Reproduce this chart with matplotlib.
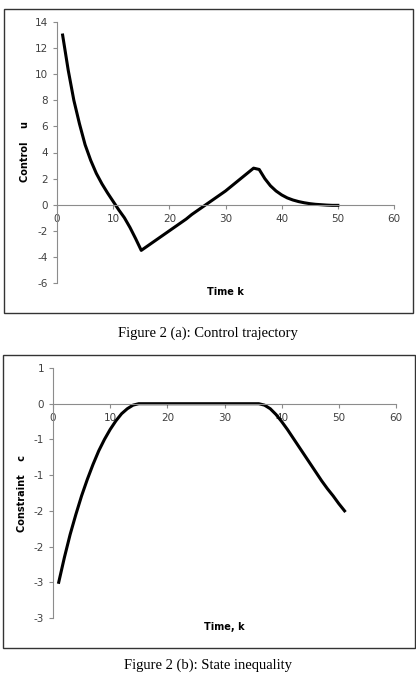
import matplotlib
matplotlib.use("Agg")
import matplotlib.pyplot as plt
from matplotlib.patches import Rectangle

plt.rcParams["axes.unicode_minus"] = False

# Figure 2 (a): control trajectory u(k), k = 1..50
time_a = list(range(1, 51))
control_u = [13.0, 10.3, 8.0, 6.2, 4.6, 3.4, 2.4, 1.6, 0.9, 0.25,
             -0.4, -1.0, -1.75, -2.6, -3.5, -3.2, -2.9, -2.6, -2.3, -2.0,
             -1.7, -1.4, -1.1, -0.75, -0.45, -0.15, 0.15, 0.45, 0.75, 1.05,
             1.4, 1.75, 2.1, 2.45, 2.8, 2.7, 2.0, 1.45, 1.05, 0.75,
             0.52, 0.36, 0.24, 0.15, 0.08, 0.03, 0.0, -0.03, -0.05, -0.05]

# Figure 2 (b): state inequality c(k), k = 1..51
time_b = list(range(1, 52))
constraint_c = [-2.50, -2.15, -1.83, -1.55, -1.29, -1.06, -0.85, -0.66, -0.50, -0.36,
                -0.24, -0.14, -0.07, -0.02] + [0.0] * 22 + \
               [-0.02, -0.07, -0.15, -0.25, -0.36, -0.48, -0.60, -0.72, -0.84,
                -0.96, -1.08, -1.19, -1.29, -1.40, -1.50]

xticks = [0, 10, 20, 30, 40, 50, 60]
yticks_a = [14, 12, 10, 8, 6, 4, 2, 0, -2, -4, -6]
yticks_b = [0.5, 0, -0.5, -1, -1.5, -2, -2.5, -3]
ylabels_b = ["1", "0", "-1", "-1", "-2", "-2", "-3", "-3"]

W, H = 416, 674
fig = plt.figure(figsize=(W / 100, H / 100), dpi=100)

axis_col = "#8c8c8c"
tick_col = "#404040"


def px_axes(left, top, right, bottom):
    return fig.add_axes([left / W, 1 - bottom / H, (right - left) / W, (bottom - top) / H])


def style(ax):
    for s in ("top", "right"):
        ax.spines[s].set_visible(False)
    ax.spines["left"].set_color(axis_col)
    ax.spines["bottom"].set_color(axis_col)
    ax.spines["bottom"].set_position(("data", 0))
    ax.tick_params(colors=axis_col, labelcolor=tick_col, labelsize=7.5,
                   length=3, width=0.8, direction="out")
    ax.set_xlim(0, 60)
    ax.set_xticks(xticks)
    ax.patch.set_alpha(0)


def frame(left, top, right, bottom):
    fig.patches.append(Rectangle((left / W, 1 - bottom / H), (right - left) / W,
                                 (bottom - top) / H, transform=fig.transFigure,
                                 fill=False, edgecolor="#333333", linewidth=1.0))


# chart (a)
frame(4, 9, 413, 313)
ax1 = px_axes(57, 22, 394, 283)
style(ax1)
ax1.plot(time_a, control_u, color="black", linewidth=2.2, solid_joinstyle="round")
ax1.set_ylim(-6, 14)
ax1.set_yticks(yticks_a)
fig.text(25 / W, 1 - 152 / H, "Control    u", rotation=90, ha="center", va="center",
         fontsize=7, fontweight="bold", color="black")
fig.text(225 / W, 1 - 292 / H, "Time k", ha="center", va="center",
         fontsize=7, fontweight="bold", color="black")
fig.text(208 / W, 1 - 333 / H, "Figure 2 (a): Control trajectory", ha="center", va="center",
         fontsize=10.5, family="Liberation Serif")

# chart (b)
frame(3, 355, 415, 648)
ax2 = px_axes(53, 368, 396, 618)
style(ax2)
ax2.plot(time_b, constraint_c, color="black", linewidth=2.2, solid_joinstyle="round")
ax2.set_ylim(-3, 0.5)
ax2.set_yticks(yticks_b)
ax2.set_yticklabels(ylabels_b)
fig.text(22 / W, 1 - 493 / H, "Constraint    c", rotation=90, ha="center", va="center",
         fontsize=7, fontweight="bold", color="black")
fig.text(224 / W, 1 - 627 / H, "Time, k", ha="center", va="center",
         fontsize=7, fontweight="bold", color="black")
fig.text(208 / W, 1 - 665 / H, "Figure 2 (b): State inequality", ha="center", va="center",
         fontsize=10.5, family="Liberation Serif")

fig.savefig("out.png", dpi=100)
